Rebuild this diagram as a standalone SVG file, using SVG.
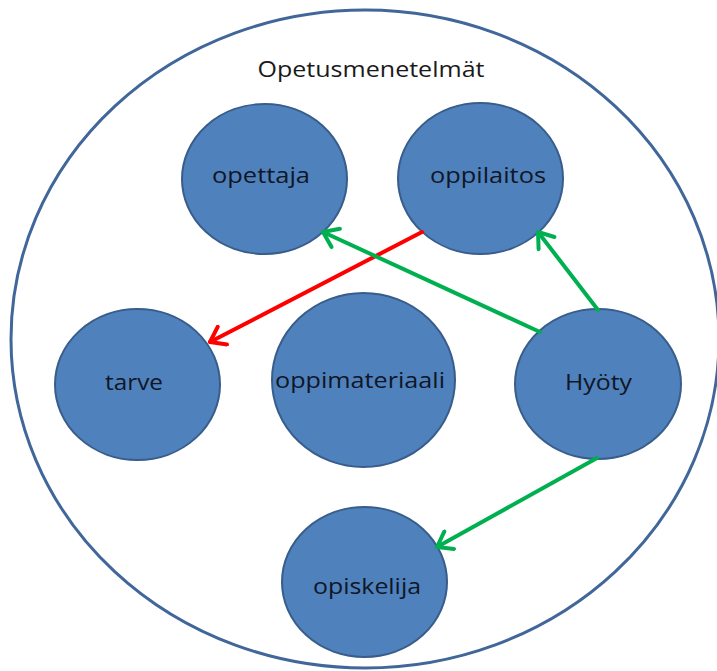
<svg xmlns="http://www.w3.org/2000/svg" width="717" height="671" viewBox="0 0 717 671">
<style>
.node{fill:#4F81BD;stroke:#385D8A;stroke-width:2}
.lbl{font-family:"Open Sans","Liberation Sans",sans-serif;font-size:22.5px;fill:#0F1626;text-anchor:middle}
.edge{fill:none;stroke-width:4;stroke-linecap:round}
.g{stroke:#00B050}
.r{stroke:#FF0000}
</style>
<defs>
<marker id="ag" markerUnits="userSpaceOnUse" viewBox="-18 -12 20 24" markerWidth="20" markerHeight="24" refX="0" refY="0" orient="auto">
<path d="M-14,-10 L0,0 L-14,10" fill="none" stroke="#00B050" stroke-width="4" stroke-linecap="round" stroke-linejoin="round"/>
</marker>
<marker id="ar" markerUnits="userSpaceOnUse" viewBox="-18 -12 20 24" markerWidth="20" markerHeight="24" refX="0" refY="0" orient="auto">
<path d="M-14,-10 L0,0 L-14,10" fill="none" stroke="#FF0000" stroke-width="4" stroke-linecap="round" stroke-linejoin="round"/>
</marker>
</defs>
<rect width="717" height="671" fill="#FFFFFF"/>
<g id="opetusmenetelmat">
<ellipse cx="365" cy="339" rx="354" ry="329" fill="none" stroke="#41679A" stroke-width="3"/>
<text x="371" y="77" font-family="Open Sans, Liberation Sans, sans-serif" font-size="22.5" fill="#1A1A1A" text-anchor="middle" textLength="227" lengthAdjust="spacingAndGlyphs">Opetusmenetelmät</text>
</g>
<g id="opettaja">
<ellipse class="node" cx="264.5" cy="179" rx="82.5" ry="75"/>
<text class="lbl" x="261" y="183" textLength="98" lengthAdjust="spacingAndGlyphs">opettaja</text>
</g>
<g id="oppilaitos">
<ellipse class="node" cx="480.5" cy="178.5" rx="82.5" ry="75.5"/>
<text class="lbl" x="488" y="183" textLength="116" lengthAdjust="spacingAndGlyphs">oppilaitos</text>
</g>
<g id="tarve">
<ellipse class="node" cx="137.5" cy="384.5" rx="82.5" ry="75.5"/>
<text class="lbl" x="134" y="390" textLength="58" lengthAdjust="spacingAndGlyphs">tarve</text>
</g>
<g id="oppimateriaali">
<ellipse class="node" cx="363.5" cy="380" rx="91.5" ry="87"/>
<text class="lbl" x="360" y="388" textLength="170" lengthAdjust="spacingAndGlyphs">oppimateriaali</text>
</g>
<g id="hyoty">
<ellipse class="node" cx="598" cy="384" rx="83" ry="75"/>
<text class="lbl" x="598.5" y="390" textLength="67" lengthAdjust="spacingAndGlyphs">Hyöty</text>
</g>
<g id="opiskelija">
<ellipse class="node" cx="364.5" cy="582" rx="82.5" ry="75"/>
<text class="lbl" x="367" y="594" textLength="108" lengthAdjust="spacingAndGlyphs">opiskelija</text>
</g>
<g id="connectors">
<line class="edge r" x1="422" y1="232" x2="210" y2="342" marker-end="url(#ar)"/>
<line class="edge g" x1="540" y1="332" x2="323" y2="232" marker-end="url(#ag)"/>
<line class="edge g" x1="598" y1="310" x2="538" y2="232" marker-end="url(#ag)"/>
<line class="edge g" x1="597" y1="458" x2="437" y2="547" marker-end="url(#ag)"/>
</g>
</svg>
